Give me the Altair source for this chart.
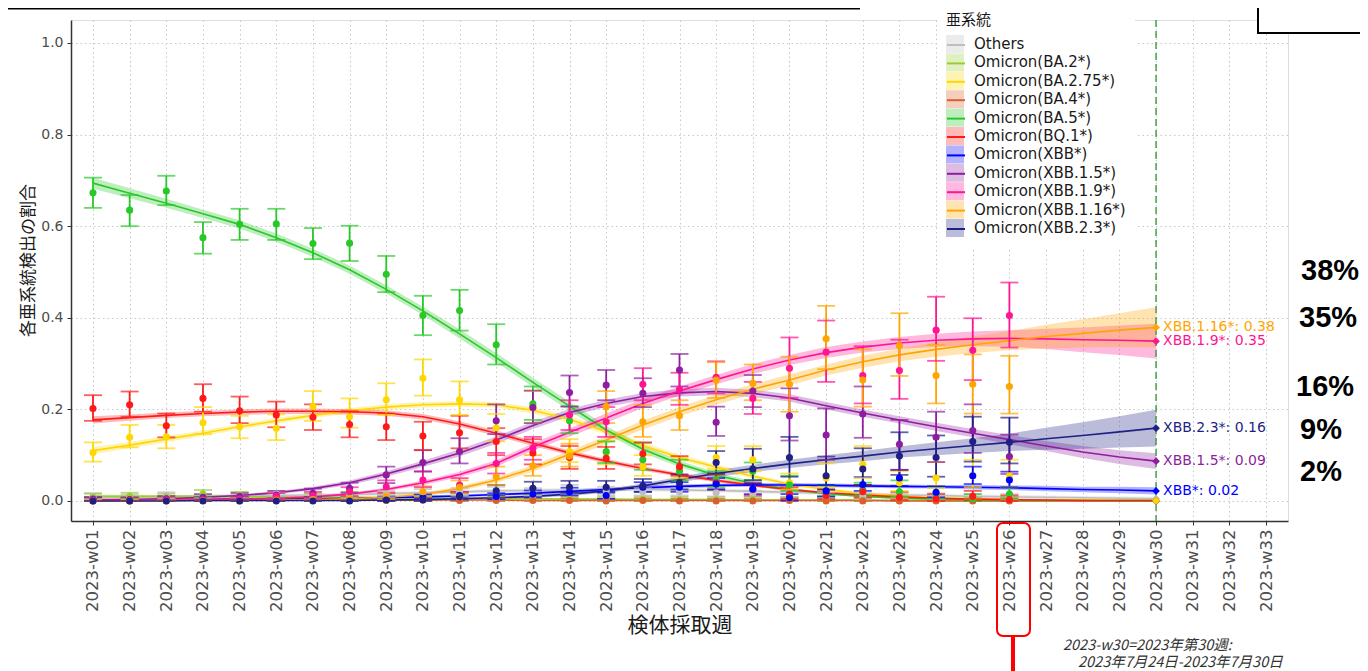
import altair as alt
import pandas as pd

WEEKS = ["2023-w01", "2023-w02", "2023-w03", "2023-w04", "2023-w05", "2023-w06", "2023-w07",
         "2023-w08", "2023-w09", "2023-w10", "2023-w11", "2023-w12", "2023-w13", "2023-w14",
         "2023-w15", "2023-w16", "2023-w17", "2023-w18", "2023-w19", "2023-w20", "2023-w21",
         "2023-w22", "2023-w23", "2023-w24", "2023-w25", "2023-w26", "2023-w27", "2023-w28",
         "2023-w29", "2023-w30", "2023-w31", "2023-w32", "2023-w33"]
FIT_WEEKS = WEEKS[:30]
OBS_WEEKS = WEEKS[:26]

LINEAGES = ["Others", "Omicron(BA.2*)", "Omicron(BA.2.75*)", "Omicron(BA.4*)", "Omicron(BA.5*)",
            "Omicron(BQ.1*)", "Omicron(XBB*)", "Omicron(XBB.1.5*)", "Omicron(XBB.1.9*)",
            "Omicron(XBB.1.16*)", "Omicron(XBB.2.3*)"]
COLORS = ["#BEBEBE", "#9ACD32", "#FFD700", "#DA5F2E", "#28C828", "#FF1A1A", "#0000FF",
          "#8E1E9E", "#FF1493", "#FFA500", "#1F1F85"]

# ---- Others
others_fit = [0.008, 0.009, 0.009, 0.010, 0.011, 0.012, 0.013, 0.014, 0.016, 0.018, 0.020, 0.022, 0.023, 0.024, 0.025,
              0.025, 0.024, 0.023, 0.021, 0.019, 0.017, 0.015, 0.013, 0.012, 0.010, 0.009, 0.008, 0.007, 0.006, 0.005]
others_band = [0.004, 0.004, 0.004, 0.004, 0.004, 0.004, 0.004, 0.004, 0.004, 0.004, 0.004, 0.004, 0.004, 0.004, 0.004,
               0.004, 0.004, 0.004, 0.004, 0.004, 0.004, 0.004, 0.004, 0.004, 0.004, 0.004, 0.004, 0.004, 0.004, 0.004]
others_obs = [0.010, 0.008, 0.012, 0.008, 0.012, 0.015, 0.010, 0.012, 0.015, 0.018, 0.020, 0.022, 0.020,
              0.025, 0.022, 0.020, 0.020, 0.018, 0.015, 0.015, 0.012, 0.010, 0.010, 0.010, 0.008, 0.008]
others_lo = [0.004, 0.003, 0.006, 0.003, 0.006, 0.008, 0.004, 0.006, 0.008, 0.010, 0.012, 0.013, 0.012,
             0.015, 0.013, 0.012, 0.012, 0.010, 0.008, 0.008, 0.005, 0.004, 0.004, 0.004, 0.002, 0.002]
others_hi = [0.017, 0.014, 0.019, 0.014, 0.019, 0.022, 0.017, 0.019, 0.022, 0.026, 0.028, 0.031, 0.028,
             0.035, 0.031, 0.028, 0.028, 0.026, 0.022, 0.022, 0.019, 0.017, 0.017, 0.017, 0.015, 0.015]

# ---- BA.2
ba2_fit = [0.010, 0.010, 0.010, 0.010, 0.009, 0.009, 0.008, 0.008, 0.007, 0.006, 0.006, 0.005, 0.005, 0.004, 0.004,
           0.003, 0.003, 0.003, 0.002, 0.002, 0.002, 0.002, 0.001, 0.001, 0.001, 0.001, 0.001, 0.001, 0.001, 0.001]
ba2_band = [0.004, 0.004, 0.003, 0.003, 0.003, 0.003, 0.003, 0.003, 0.003, 0.003, 0.002, 0.002, 0.002, 0.002, 0.002,
            0.002, 0.002, 0.002, 0.002, 0.002, 0.002, 0.002, 0.002, 0.002, 0.002, 0.002, 0.003, 0.003, 0.003, 0.003]
ba2_obs = [0.008, 0.010, 0.008, 0.015, 0.012, 0.010, 0.008, 0.012, 0.008, 0.006, 0.005, 0.004, 0.004,
           0.003, 0.003, 0.003, 0.002, 0.002, 0.003, 0.002, 0.002, 0.001, 0.001, 0.001, 0.001, 0.001]
ba2_lo = [0.003, 0.004, 0.003, 0.008, 0.006, 0.004, 0.003, 0.006, 0.003, 0.002, 0.001, 0.001, 0.001,
          0.000, 0.000, 0.000, 0.000, 0.000, 0.000, 0.000, 0.000, 0.000, 0.000, 0.000, 0.000, 0.000]
ba2_hi = [0.016, 0.018, 0.016, 0.024, 0.020, 0.018, 0.016, 0.020, 0.016, 0.013, 0.012, 0.011, 0.011,
          0.010, 0.010, 0.010, 0.009, 0.009, 0.010, 0.009, 0.009, 0.008, 0.008, 0.008, 0.008, 0.008]

# ---- BA.2.75
ba275_fit = [0.110, 0.122, 0.135, 0.148, 0.162, 0.175, 0.187, 0.197, 0.205, 0.210, 0.212, 0.210, 0.198, 0.178, 0.152,
             0.121, 0.095, 0.074, 0.054, 0.037, 0.025, 0.016, 0.011, 0.007, 0.005, 0.003, 0.002, 0.002, 0.001, 0.001]
ba275_band = [0.008, 0.007, 0.007, 0.006, 0.006, 0.006, 0.006, 0.006, 0.006, 0.006, 0.006, 0.006, 0.007, 0.007, 0.007,
              0.007, 0.006, 0.006, 0.005, 0.004, 0.004, 0.003, 0.003, 0.002, 0.002, 0.002, 0.002, 0.002, 0.002, 0.002]
ba275_obs = [0.106, 0.139, 0.140, 0.171, 0.162, 0.159, 0.206, 0.184, 0.221, 0.268, 0.221, 0.160, 0.205,
             0.108, 0.105, 0.075, 0.070, 0.095, 0.090, 0.040, 0.050, 0.080, 0.040, 0.050, 0.055, 0.055]
ba275_lo = [0.086, 0.117, 0.115, 0.146, 0.137, 0.133, 0.175, 0.160, 0.188, 0.230, 0.188, 0.130, 0.170,
            0.085, 0.080, 0.055, 0.050, 0.070, 0.065, 0.025, 0.030, 0.050, 0.022, 0.028, 0.030, 0.030]
ba275_hi = [0.128, 0.166, 0.166, 0.205, 0.186, 0.189, 0.240, 0.224, 0.257, 0.309, 0.261, 0.190, 0.240,
            0.135, 0.130, 0.100, 0.095, 0.120, 0.120, 0.060, 0.082, 0.120, 0.065, 0.085, 0.090, 0.090]

# ---- BA.4
ba4_fit = [0.003, 0.003, 0.003, 0.003, 0.003, 0.003, 0.002, 0.002, 0.002, 0.002, 0.002, 0.002, 0.001, 0.001, 0.001,
           0.001, 0.001, 0.001, 0.001, 0.001, 0.001, 0.001, 0.000, 0.000, 0.000, 0.000, 0.000, 0.000, 0.000, 0.000]
ba4_band = [0.002, 0.002, 0.002, 0.002, 0.002, 0.002, 0.002, 0.002, 0.002, 0.002, 0.001, 0.001, 0.001, 0.001, 0.001,
            0.001, 0.001, 0.001, 0.001, 0.001, 0.001, 0.001, 0.001, 0.001, 0.001, 0.001, 0.001, 0.001, 0.001, 0.001]
ba4_obs = [0.003, 0.002, 0.004, 0.002, 0.003, 0.002, 0.003, 0.002, 0.001, 0.002, 0.001, 0.001, 0.001,
           0.001, 0.000, 0.001, 0.000, 0.000, 0.000, 0.001, 0.000, 0.000, 0.000, 0.000, 0.000, 0.000]
ba4_lo = [0.000, 0.000, 0.001, 0.000, 0.000, 0.000, 0.000, 0.000, 0.000, 0.000, 0.000, 0.000, 0.000,
          0.000, 0.000, 0.000, 0.000, 0.000, 0.000, 0.000, 0.000, 0.000, 0.000, 0.000, 0.000, 0.000]
ba4_hi = [0.008, 0.007, 0.009, 0.007, 0.008, 0.007, 0.008, 0.007, 0.006, 0.007, 0.006, 0.006, 0.006,
          0.006, 0.005, 0.006, 0.005, 0.005, 0.005, 0.006, 0.005, 0.005, 0.005, 0.005, 0.005, 0.005]

# ---- BA.5
ba5_fit = [0.694, 0.672, 0.650, 0.627, 0.604, 0.575, 0.542, 0.505, 0.462, 0.415, 0.365, 0.313, 0.259, 0.207, 0.155,
           0.113, 0.081, 0.056, 0.038, 0.025, 0.016, 0.010, 0.006, 0.004, 0.003, 0.002, 0.001, 0.001, 0.000, 0.000]
ba5_band = [0.012, 0.011, 0.010, 0.009, 0.009, 0.009, 0.009, 0.009, 0.009, 0.009, 0.010, 0.010, 0.010, 0.010, 0.009,
            0.008, 0.007, 0.006, 0.005, 0.004, 0.003, 0.002, 0.002, 0.001, 0.001, 0.001, 0.001, 0.001, 0.001, 0.001]
ba5_obs = [0.673, 0.635, 0.677, 0.575, 0.604, 0.605, 0.562, 0.563, 0.495, 0.405, 0.416, 0.341, 0.212,
           0.175, 0.108, 0.090, 0.065, 0.046, 0.065, 0.035, 0.020, 0.025, 0.020, 0.015, 0.005, 0.015]
ba5_lo = [0.640, 0.600, 0.646, 0.540, 0.570, 0.570, 0.528, 0.524, 0.456, 0.362, 0.372, 0.298, 0.177,
          0.148, 0.083, 0.068, 0.045, 0.030, 0.046, 0.022, 0.010, 0.012, 0.010, 0.005, 0.000, 0.005]
ba5_hi = [0.706, 0.668, 0.710, 0.609, 0.638, 0.638, 0.596, 0.601, 0.535, 0.448, 0.461, 0.386, 0.250,
          0.207, 0.130, 0.127, 0.090, 0.065, 0.084, 0.055, 0.035, 0.040, 0.045, 0.030, 0.015, 0.030]

# ---- BQ.1
bq1_fit = [0.177, 0.182, 0.187, 0.191, 0.194, 0.196, 0.196, 0.195, 0.192, 0.184, 0.168, 0.148, 0.126, 0.105, 0.087,
           0.071, 0.057, 0.045, 0.034, 0.025, 0.018, 0.013, 0.009, 0.006, 0.004, 0.003, 0.002, 0.001, 0.001, 0.001]
bq1_band = [0.008, 0.007, 0.006, 0.006, 0.006, 0.006, 0.006, 0.006, 0.006, 0.006, 0.006, 0.006, 0.006, 0.005, 0.005,
            0.005, 0.004, 0.004, 0.003, 0.003, 0.002, 0.002, 0.002, 0.001, 0.001, 0.001, 0.001, 0.001, 0.001, 0.001]
bq1_obs = [0.202, 0.210, 0.164, 0.224, 0.197, 0.188, 0.183, 0.167, 0.162, 0.142, 0.149, 0.130, 0.105,
           0.095, 0.093, 0.103, 0.075, 0.040, 0.025, 0.015, 0.012, 0.020, 0.008, 0.005, 0.010, 0.003]
bq1_lo = [0.175, 0.184, 0.139, 0.195, 0.170, 0.161, 0.155, 0.139, 0.133, 0.111, 0.115, 0.100, 0.080,
          0.070, 0.070, 0.080, 0.055, 0.025, 0.012, 0.005, 0.004, 0.008, 0.002, 0.000, 0.002, 0.000]
bq1_hi = [0.231, 0.239, 0.191, 0.255, 0.228, 0.217, 0.211, 0.196, 0.191, 0.173, 0.186, 0.159, 0.135,
          0.120, 0.118, 0.128, 0.098, 0.058, 0.040, 0.030, 0.025, 0.035, 0.020, 0.015, 0.022, 0.012]

# ---- XBB
xbb_fit = [0.002, 0.002, 0.003, 0.003, 0.004, 0.004, 0.005, 0.006, 0.007, 0.009, 0.011, 0.014, 0.017, 0.021, 0.025,
           0.029, 0.032, 0.034, 0.035, 0.035, 0.034, 0.033, 0.032, 0.031, 0.030, 0.029, 0.027, 0.025, 0.024, 0.022]
xbb_band = [0.002, 0.002, 0.002, 0.002, 0.002, 0.002, 0.002, 0.002, 0.002, 0.003, 0.003, 0.003, 0.003, 0.004, 0.004,
            0.004, 0.004, 0.004, 0.004, 0.004, 0.004, 0.004, 0.004, 0.004, 0.005, 0.005, 0.006, 0.006, 0.007, 0.008]
xbb_obs = [0.002, 0.001, 0.002, 0.004, 0.003, 0.002, 0.004, 0.003, 0.005, 0.008, 0.012, 0.010, 0.015,
           0.020, 0.012, 0.030, 0.030, 0.037, 0.026, 0.007, 0.022, 0.036, 0.050, 0.019, 0.055, 0.046]
xbb_lo = [0.000, 0.000, 0.000, 0.001, 0.000, 0.000, 0.001, 0.000, 0.001, 0.003, 0.006, 0.004, 0.008,
          0.012, 0.005, 0.020, 0.020, 0.025, 0.015, 0.001, 0.010, 0.022, 0.033, 0.008, 0.037, 0.030]
xbb_hi = [0.006, 0.005, 0.006, 0.009, 0.008, 0.006, 0.009, 0.008, 0.010, 0.014, 0.019, 0.017, 0.023,
          0.029, 0.020, 0.041, 0.041, 0.050, 0.038, 0.015, 0.035, 0.052, 0.068, 0.032, 0.075, 0.064]

# ---- XBB.1.5
xbb15_fit = [0.002, 0.003, 0.005, 0.008, 0.012, 0.018, 0.027, 0.040, 0.059, 0.081, 0.105, 0.133, 0.165, 0.193, 0.213,
             0.228, 0.236, 0.239, 0.235, 0.225, 0.208, 0.192, 0.177, 0.162, 0.148, 0.134, 0.120, 0.107, 0.096, 0.087]
xbb15_band = [0.001, 0.001, 0.002, 0.002, 0.003, 0.003, 0.004, 0.005, 0.006, 0.007, 0.008, 0.008, 0.008, 0.008, 0.008,
              0.008, 0.008, 0.008, 0.008, 0.008, 0.008, 0.008, 0.008, 0.009, 0.009, 0.010, 0.011, 0.013, 0.015, 0.017]
xbb15_obs = [0.004, 0.003, 0.005, 0.008, 0.010, 0.013, 0.017, 0.028, 0.057, 0.084, 0.108, 0.175, 0.204,
             0.237, 0.253, 0.235, 0.286, 0.172, 0.240, 0.186, 0.144, 0.190, 0.124, 0.139, 0.154, 0.097]
xbb15_lo = [0.000, 0.000, 0.001, 0.003, 0.004, 0.006, 0.009, 0.018, 0.039, 0.064, 0.082, 0.146, 0.170,
            0.206, 0.220, 0.205, 0.250, 0.142, 0.205, 0.132, 0.090, 0.138, 0.068, 0.085, 0.105, 0.059]
xbb15_hi = [0.009, 0.008, 0.011, 0.015, 0.017, 0.022, 0.027, 0.040, 0.075, 0.111, 0.137, 0.211, 0.241,
            0.274, 0.286, 0.268, 0.321, 0.206, 0.275, 0.246, 0.202, 0.250, 0.177, 0.195, 0.211, 0.145]

# ---- XBB.1.9
xbb19_fit = [0.001, 0.001, 0.002, 0.003, 0.004, 0.006, 0.009, 0.015, 0.025, 0.040, 0.058, 0.082, 0.118, 0.150, 0.181,
             0.213, 0.240, 0.265, 0.288, 0.308, 0.324, 0.336, 0.345, 0.351, 0.354, 0.355, 0.354, 0.352, 0.351, 0.349]
xbb19_band = [0.001, 0.001, 0.001, 0.001, 0.002, 0.002, 0.003, 0.003, 0.004, 0.005, 0.006, 0.007, 0.008, 0.009, 0.010,
              0.010, 0.010, 0.010, 0.011, 0.011, 0.012, 0.012, 0.013, 0.014, 0.016, 0.018, 0.022, 0.027, 0.032, 0.038]
xbb19_obs = [0.000, 0.000, 0.002, 0.002, 0.004, 0.010, 0.012, 0.020, 0.031, 0.046, 0.035, 0.082, 0.115,
             0.188, 0.173, 0.255, 0.244, 0.270, 0.224, 0.290, 0.325, 0.274, 0.285, 0.373, 0.329, 0.405]
xbb19_lo = [0.000, 0.000, 0.000, 0.000, 0.001, 0.004, 0.005, 0.011, 0.018, 0.030, 0.020, 0.060, 0.090,
            0.155, 0.140, 0.220, 0.210, 0.235, 0.190, 0.225, 0.260, 0.213, 0.223, 0.306, 0.264, 0.335]
xbb19_hi = [0.004, 0.004, 0.006, 0.006, 0.010, 0.017, 0.020, 0.030, 0.045, 0.065, 0.050, 0.105, 0.140,
            0.220, 0.205, 0.290, 0.280, 0.305, 0.260, 0.357, 0.394, 0.338, 0.352, 0.446, 0.399, 0.477]

# ---- XBB.1.16
xbb116_fit = [0.000, 0.000, 0.001, 0.001, 0.001, 0.002, 0.003, 0.005, 0.008, 0.014, 0.027, 0.046, 0.071, 0.102, 0.133,
              0.166, 0.195, 0.221, 0.244, 0.264, 0.286, 0.304, 0.319, 0.331, 0.341, 0.350, 0.359, 0.366, 0.373, 0.379]
xbb116_band = [0.000, 0.000, 0.001, 0.001, 0.001, 0.001, 0.002, 0.002, 0.003, 0.004, 0.005, 0.006, 0.007, 0.008, 0.009,
               0.010, 0.010, 0.011, 0.011, 0.012, 0.012, 0.013, 0.014, 0.016, 0.018, 0.021, 0.026, 0.031, 0.037, 0.044]
xbb116_obs = [0.000, 0.000, 0.000, 0.001, 0.000, 0.002, 0.003, 0.004, 0.010, 0.020, 0.030, 0.053, 0.077,
              0.098, 0.206, 0.173, 0.186, 0.264, 0.257, 0.255, 0.354, 0.264, 0.339, 0.274, 0.255, 0.250]
xbb116_lo = [0.000, 0.000, 0.000, 0.000, 0.000, 0.000, 0.000, 0.001, 0.004, 0.010, 0.017, 0.035, 0.055,
             0.075, 0.170, 0.140, 0.155, 0.225, 0.220, 0.195, 0.288, 0.206, 0.273, 0.213, 0.191, 0.191]
xbb116_hi = [0.003, 0.003, 0.003, 0.004, 0.003, 0.006, 0.008, 0.009, 0.018, 0.032, 0.045, 0.075, 0.100,
             0.125, 0.240, 0.210, 0.220, 0.303, 0.298, 0.315, 0.426, 0.331, 0.410, 0.341, 0.320, 0.317]

# ---- XBB.2.3
xbb23_fit = [0.000, 0.000, 0.000, 0.001, 0.001, 0.001, 0.001, 0.001, 0.002, 0.003, 0.005, 0.007, 0.010, 0.015, 0.022,
             0.033, 0.047, 0.060, 0.071, 0.081, 0.090, 0.098, 0.107, 0.114, 0.121, 0.128, 0.136, 0.143, 0.151, 0.159]
xbb23_band = [0.000, 0.000, 0.000, 0.001, 0.001, 0.001, 0.001, 0.001, 0.001, 0.002, 0.002, 0.003, 0.003, 0.004, 0.004,
              0.005, 0.006, 0.007, 0.008, 0.009, 0.010, 0.011, 0.012, 0.014, 0.016, 0.019, 0.024, 0.029, 0.034, 0.040]
xbb23_obs = [0.000, 0.000, 0.000, 0.000, 0.000, 0.000, 0.000, 0.000, 0.002, 0.002, 0.009, 0.022, 0.028,
             0.030, 0.030, 0.033, 0.040, 0.084, 0.070, 0.095, 0.055, 0.070, 0.098, 0.095, 0.130, 0.128]
xbb23_lo = [0.000, 0.000, 0.000, 0.000, 0.000, 0.000, 0.000, 0.000, 0.000, 0.000, 0.003, 0.012, 0.016,
            0.018, 0.018, 0.020, 0.025, 0.060, 0.045, 0.053, 0.025, 0.035, 0.057, 0.053, 0.086, 0.082]
xbb23_hi = [0.002, 0.002, 0.002, 0.002, 0.002, 0.002, 0.002, 0.002, 0.006, 0.006, 0.018, 0.035, 0.042,
            0.044, 0.044, 0.048, 0.058, 0.109, 0.114, 0.140, 0.097, 0.115, 0.150, 0.143, 0.184, 0.182]

SERIES = [
    (others_fit, others_band, others_obs, others_lo, others_hi),
    (ba2_fit, ba2_band, ba2_obs, ba2_lo, ba2_hi),
    (ba275_fit, ba275_band, ba275_obs, ba275_lo, ba275_hi),
    (ba4_fit, ba4_band, ba4_obs, ba4_lo, ba4_hi),
    (ba5_fit, ba5_band, ba5_obs, ba5_lo, ba5_hi),
    (bq1_fit, bq1_band, bq1_obs, bq1_lo, bq1_hi),
    (xbb_fit, xbb_band, xbb_obs, xbb_lo, xbb_hi),
    (xbb15_fit, xbb15_band, xbb15_obs, xbb15_lo, xbb15_hi),
    (xbb19_fit, xbb19_band, xbb19_obs, xbb19_lo, xbb19_hi),
    (xbb116_fit, xbb116_band, xbb116_obs, xbb116_lo, xbb116_hi),
    (xbb23_fit, xbb23_band, xbb23_obs, xbb23_lo, xbb23_hi),
]

END_LABELS = ["", "", "", "", "", "", "XBB*: 0.02", "XBB.1.5*: 0.09", "XBB.1.9*: 0.35",
              "XBB.1.16*: 0.38", "XBB.2.3*: 0.16"]
# drawing order of the end diamonds (yellow one ends on top at zero)
END_ORDER = [0, 1, 3, 4, 5, 2, 6, 7, 10, 8, 9]

PCT_TEXT = ["38%", "35%", "16%", "9%", "2%"]

LATIN = "DejaVu Sans"
JP = "Noto Sans CJK JP"

# the ribbon legend gets its own (space-suffixed) domain so that it is not merged with the line legend
FILL_NAMES = [n + " " for n in LINEAGES]

fit_rows, obs_rows = [], []
for name, fname, (fit, band, obs, lo, hi) in zip(LINEAGES, FILL_NAMES, SERIES):
    for w, f, b in zip(FIT_WEEKS, fit, band):
        fit_rows.append({"lineage": name, "lin_fill": fname, "week": w, "fit": f,
                         "blo": max(f - b, 0.0), "bhi": f + b})
    for w, o, l, h in zip(OBS_WEEKS, obs, lo, hi):
        obs_rows.append({"lineage": name, "week": w, "obs": o, "lo": l, "hi": h})
fit_df = pd.DataFrame(fit_rows)
obs_df = pd.DataFrame(obs_rows)
end_df = pd.DataFrame([{"lineage": LINEAGES[i], "week": FIT_WEEKS[-1], "val": SERIES[i][0][-1],
                        "label": END_LABELS[i]} for i in END_ORDER])
lab_df = end_df[end_df["label"] != ""]

x_scale = alt.Scale(type="point", domain=WEEKS, padding=0.6)
y_scale = alt.Scale(domain=[-0.0437, 1.0502], nice=False, zero=False)
x_axis = alt.Axis(labelAngle=270, labelFont=LATIN, labelFontSize=16.5, labelColor="#4D4D4D",
                  labelPadding=4, tickSize=4, tickColor="#333333", domainColor="#333333",
                  domainWidth=1.5, grid=True, gridColor="#C8C8C8", gridDash=[1.5, 3],
                  titleFont=JP, titleFontSize=21, titleFontWeight="normal", titleColor="#1A1A1A",
                  titleY=104, titleBaseline="middle")
y_axis = alt.Axis(values=[0, 0.2, 0.4, 0.6, 0.8, 1.0], format=".1f", labelFont=LATIN,
                  labelFontSize=14, labelColor="#4D4D4D", labelPadding=4, tickSize=4,
                  tickColor="#333333", domainColor="#333333", domainWidth=1.5, grid=True,
                  gridColor="#C8C8C8", gridDash=[1.5, 3], titleFont=JP, titleFontSize=17,
                  titleFontWeight="normal", titleColor="#1A1A1A", titleAngle=270,
                  titleX=-43, titleY=240, titleAlign="center", titleBaseline="middle")

X = alt.X("week:O", scale=x_scale, axis=x_axis, title="検体採取週")


def Y(field):
    return alt.Y(field, type="quantitative", scale=y_scale, axis=y_axis, title="各亜系統検出の割合")


cscale = alt.Scale(domain=LINEAGES, range=COLORS)
fscale = alt.Scale(domain=FILL_NAMES, range=COLORS)

LEG_COMMON = dict(orient="none", legendX=866, legendY=-16, direction="vertical", padding=9,
                  title="亜系統", titleFont=JP, titleFontSize=15, titleFontWeight="normal",
                  titleColor="#1A1A1A", titlePadding=7, labelFont=LATIN, labelFontSize=15,
                  labelColor="#1A1A1A", labelOffset=10, rowPadding=0.4, symbolSize=324)

fill_legend = alt.Legend(fillColor="white", symbolType="square", symbolOpacity=0.3,
                         symbolStrokeWidth=0, zindex=1, **LEG_COMMON)
stroke_legend = alt.Legend(symbolType="stroke", symbolStrokeWidth=2, labelOpacity=0,
                           titleOpacity=0, zindex=2, **LEG_COMMON)

ribbons = alt.Chart(fit_df).mark_area(opacity=0.3).encode(
    x=X, y=Y("blo"), y2="bhi",
    fill=alt.Fill("lin_fill:N", scale=fscale, legend=fill_legend))
lines = alt.Chart(fit_df).mark_line(strokeWidth=1.6).encode(
    x=X, y=Y("fit"),
    stroke=alt.Stroke("lineage:N", scale=cscale, legend=stroke_legend))
err = alt.Chart(obs_df).mark_rule(strokeWidth=1.8).encode(
    x=X, y=Y("lo"), y2="hi", color=alt.Color("lineage:N", scale=cscale, legend=None))
cap_hi = alt.Chart(obs_df).mark_tick(size=18, thickness=1.8, orient="horizontal").encode(
    x=X, y=Y("hi"), color=alt.Color("lineage:N", scale=cscale, legend=None))
cap_lo = alt.Chart(obs_df).mark_tick(size=18, thickness=1.8, orient="horizontal").encode(
    x=X, y=Y("lo"), color=alt.Color("lineage:N", scale=cscale, legend=None))
points = alt.Chart(obs_df).mark_circle(size=50, opacity=1).encode(
    x=X, y=Y("obs"), color=alt.Color("lineage:N", scale=cscale, legend=None))
diamonds = alt.Chart(end_df).mark_point(shape="diamond", filled=True, size=60, opacity=1).encode(
    x=X, y=Y("val"), color=alt.Color("lineage:N", scale=cscale, legend=None))
end_text = alt.Chart(lab_df).mark_text(align="left", baseline="middle", dx=7, fontSize=14,
                                       font=LATIN).encode(
    x=X, y=Y("val"), text="label:N", color=alt.Color("lineage:N", scale=cscale, legend=None))

vline = alt.Chart(pd.DataFrame({"week": [FIT_WEEKS[-1]]})).mark_rule(
    color="#3A9A3A", strokeDash=[7, 4], strokeWidth=1.4).encode(x=X)

one = pd.DataFrame({"a": [0]})
pct_y = [251, 298, 367, 410, 452]
pct_x = [1230, 1228, 1225, 1229, 1229]
pct_layers = [alt.Chart(one).mark_text(text=t, align="left", baseline="middle", fontSize=29,
                                       fontWeight="bold", font="Liberation Sans", color="black")
              .encode(x=alt.value(px), y=alt.value(py)) for t, px, py in zip(PCT_TEXT, pct_x, pct_y)]

cap1 = alt.Chart(one).mark_text(text="2023-w30=2023年第30週:", align="left", baseline="middle",
                                fontSize=14.5, fontStyle="italic", font=JP, color="#333333").encode(
    x=alt.value(992), y=alt.value(626))
cap2 = alt.Chart(one).mark_text(text="2023年7月24日-2023年7月30日", align="left", baseline="middle",
                                fontSize=14.5, fontStyle="italic", font=JP, color="#333333").encode(
    x=alt.value(1007), y=alt.value(643))

red_box = alt.Chart(one).mark_rect(fillOpacity=0, stroke="#FF0000", strokeWidth=2, cornerRadius=6).encode(
    x=alt.value(926), x2=alt.value(959), y=alt.value(503), y2=alt.value(616))
red_line = alt.Chart(one).mark_rule(color="#FF0000", strokeWidth=4).encode(
    x=alt.value(942), y=alt.value(616), y2=alt.value(670))

top_line = alt.Chart(one).mark_rule(color="black", strokeWidth=2).encode(
    x=alt.value(-71), x2=alt.value(789), y=alt.value(-11.5))
top_box = alt.Chart(one).mark_rect(fill="white", stroke="black", strokeWidth=2).encode(
    x=alt.value(1187), x2=alt.value(1320), y=alt.value(-40), y2=alt.value(13))
top_text = alt.Chart(one).mark_text(text="系統別", align="left", baseline="bottom", fontSize=28,
                                    fontWeight="bold", font=JP, color="black").encode(
    x=alt.value(1208), y=alt.value(-10))

chart = alt.layer(
    ribbons, lines, err, cap_hi, cap_lo, points, vline, diamonds, end_text,
    *pct_layers, cap1, cap2, red_box, red_line, top_line, top_box, top_text
).properties(
    width=1217, height=501,
    padding={"left": 63, "top": 12, "right": 72, "bottom": 150},
    autosize=alt.AutoSizeParams(type="none"),
).configure_view(stroke="#CCCCCC", strokeWidth=1).configure(background="white")

chart.save("out.html", embed_options={"renderer": "svg", "actions": False})
